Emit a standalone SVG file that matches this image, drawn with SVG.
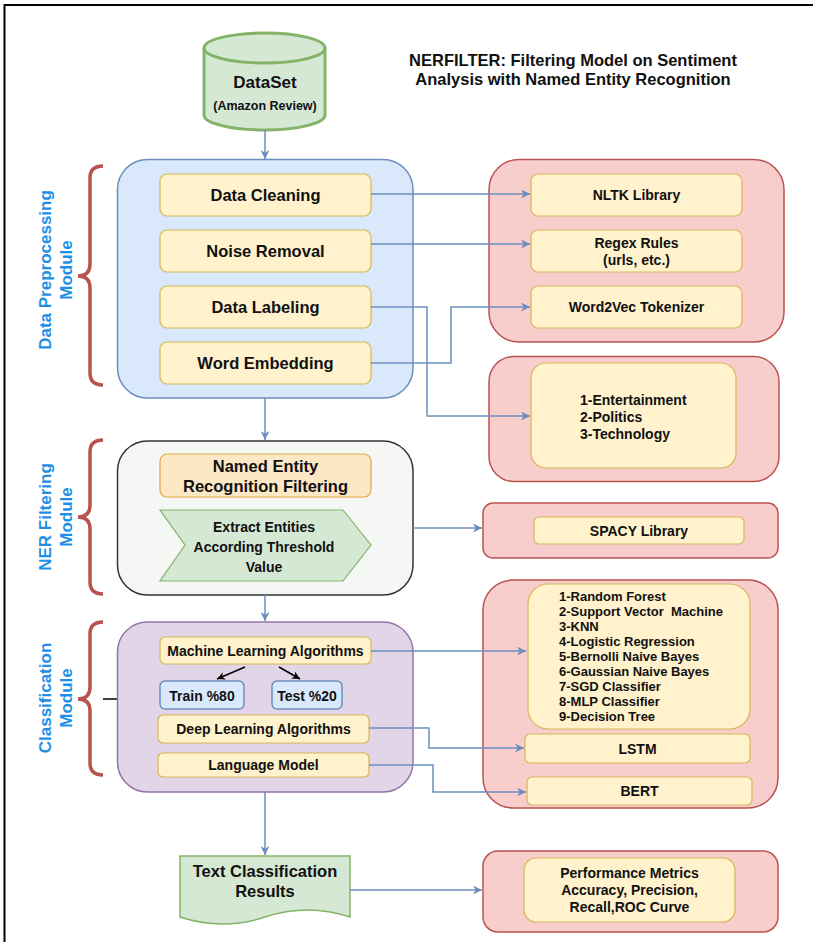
<svg xmlns="http://www.w3.org/2000/svg" width="813" height="942" viewBox="0 0 813 942">
<style>
text{font-family:"Liberation Sans",Arial,sans-serif;font-weight:bold;fill:#111;text-anchor:middle}
.mod{fill:#1f8fe5;font-size:17px}
.blue{fill:#dae8fc;stroke:#6c8ebf;stroke-width:1.5}
.yel{fill:#fff2cc;stroke:#d6b656;stroke-width:1.2}
.red{fill:#f8cecc;stroke:#b85450;stroke-width:1.5}
.brace{fill:none;stroke:#b85450;stroke-width:3.5}
.conn{fill:none;stroke:#6c8ebf;stroke-width:1.5;marker-end:url(#ah)}
.blk{fill:none;stroke:#000;stroke-width:1.5;marker-end:url(#ahk)}
.t16{font-size:16.5px}
.t14{font-size:14px}
.t13{font-size:13px;text-anchor:start}
</style>
<defs>
<marker id="ah" viewBox="0 0 10 10" refX="10" refY="5" markerWidth="11" markerHeight="9" markerUnits="userSpaceOnUse" orient="auto"><path d="M0,0 L10,5 L0,10 L3,5 Z" fill="#6c8ebf"/></marker>
<marker id="ahk" viewBox="0 0 10 10" refX="10" refY="5" markerWidth="10" markerHeight="8" markerUnits="userSpaceOnUse" orient="auto"><path d="M0,0 L10,5 L0,10 L3,5 Z" fill="#000"/></marker>
</defs>
<rect width="813" height="942" fill="#fff"/>
<path d="M4.5,942 V5 H813" fill="none" stroke="#000" stroke-width="2"/>

<g id="title">
<text x="573" y="66" font-size="16.5">NERFILTER: Filtering Model on Sentiment</text>
<text x="573" y="85" font-size="16.5">Analysis with Named Entity Recognition</text>
</g>

<g id="dataset">
<path d="M204,48 V115 A60.5,15 0 0 0 325,115 V48 A60.5,15 0 0 0 204,48 Z" fill="#d5e8d4" stroke="#82b366" stroke-width="3"/>
<path d="M204,48 A60.5,15 0 0 0 325,48" fill="none" stroke="#82b366" stroke-width="3"/>
<text x="265" y="88" font-size="17px">DataSet</text>
<text x="265" y="110" font-size="12.5px">(Amazon Review)</text>
</g>

<g id="labels">
<text class="mod" transform="translate(51,270) rotate(-90)">Data Preprocessing</text>
<text class="mod" transform="translate(72,270) rotate(-90)">Module</text>
<text class="mod" transform="translate(51,517) rotate(-90)">NER Filtering</text>
<text class="mod" transform="translate(72,517) rotate(-90)">Module</text>
<text class="mod" transform="translate(51,698) rotate(-90)">Classification</text>
<text class="mod" transform="translate(72,698) rotate(-90)">Module</text>
<path class="brace" d="M103,166 Q90,166 90,178 V264 Q90,276 78,276 Q90,276 90,288 V373 Q90,385 103,385"/>
<path class="brace" d="M103,440 Q90,440 90,452 V505 Q90,517 78,517 Q90,517 90,529 V582 Q90,594 103,594"/>
<path class="brace" d="M103,622 Q90,622 90,634 V687 Q90,699 78,699 Q90,699 90,711 V763 Q90,775 103,775"/>
<path d="M103,699 H117" stroke="#000" stroke-width="1.5"/>
</g>

<g id="preprocessing">
<rect x="117.5" y="159.5" width="295.5" height="238.5" rx="30" class="blue"/>
<g id="data-cleaning"><rect x="160" y="174" width="211" height="42" rx="7" class="yel"/><text x="265.5" y="201" class="t16">Data Cleaning</text></g>
<g id="noise-removal"><rect x="160" y="230" width="211" height="42" rx="7" class="yel"/><text x="265.5" y="257" class="t16">Noise Removal</text></g>
<g id="data-labeling"><rect x="160" y="286" width="211" height="42" rx="7" class="yel"/><text x="265.5" y="313" class="t16">Data Labeling</text></g>
<g id="word-embedding"><rect x="160" y="342" width="211" height="42" rx="7" class="yel"/><text x="265.5" y="369" class="t16">Word Embedding</text></g>
</g>

<g id="tools1">
<rect x="489" y="159.5" width="295" height="182.5" rx="30" class="red"/>
<g id="nltk"><rect x="531" y="174" width="211" height="42" rx="7" class="yel"/><text x="636.5" y="200" class="t14">NLTK Library</text></g>
<g id="regex"><rect x="531" y="230" width="211" height="42" rx="7" class="yel"/><text x="636.5" y="248" class="t14">Regex Rules</text><text x="636.5" y="265" class="t14">(urls, etc.)</text></g>
<g id="word2vec"><rect x="531" y="286" width="211" height="42" rx="7" class="yel"/><text x="636.5" y="312" class="t14">Word2Vec Tokenizer</text></g>
</g>

<g id="categories">
<rect x="489" y="356.5" width="290" height="125" rx="25" class="red"/>
<rect x="531" y="363" width="205" height="105" rx="15" class="yel"/>
<text x="580" y="405" class="t14" style="text-anchor:start">1-Entertainment</text>
<text x="580" y="422" class="t14" style="text-anchor:start">2-Politics</text>
<text x="580" y="439" class="t14" style="text-anchor:start">3-Technology</text>
</g>

<g id="ner">
<rect x="117.5" y="441" width="295.5" height="154" rx="30" fill="#f5f7f5" stroke="#333" stroke-width="1.5"/>
<g id="ner-filter"><rect x="160" y="454" width="211" height="43" rx="7" fill="#fde8c6" stroke="#e0a545" stroke-width="1.2"/>
<text x="265.5" y="472" font-size="16.5px">Named Entity</text><text x="265.5" y="492" font-size="16.5px">Recognition Filtering</text></g>
<g id="extract"><path d="M160,510 H343 L371,545 L343,581 H160 L185,545 Z" fill="#d5e8d4" stroke="#82b366" stroke-width="1.2"/>
<text x="264" y="532" class="t14">Extract Entities</text><text x="264" y="552" class="t14">According Threshold</text><text x="264" y="572" class="t14">Value</text></g>
</g>

<g id="spacy">
<rect x="483" y="503" width="295" height="55" rx="10" class="red"/>
<rect x="534" y="517" width="210" height="27" rx="5" class="yel"/>
<text x="639" y="535.5" class="t14">SPACY Library</text>
</g>

<g id="classification">
<rect x="117.5" y="622" width="295.5" height="170" rx="30" fill="#e1d5e7" stroke="#9673a6" stroke-width="1.5"/>
<g id="ml"><rect x="160" y="637" width="211" height="27" rx="5" class="yel"/><text x="265.5" y="656" class="t14">Machine Learning Algorithms</text></g>
<g id="train"><rect x="160" y="681" width="84" height="28" rx="5" class="blue"/><text x="202" y="700.5" class="t14">Train %80</text></g>
<g id="test"><rect x="272" y="681" width="70" height="28" rx="5" class="blue"/><text x="307" y="700.5" class="t14">Test %20</text></g>
<g id="dl"><rect x="158" y="715" width="211" height="28" rx="5" class="yel"/><text x="263.5" y="734" class="t14">Deep Learning Algorithms</text></g>
<g id="lm"><rect x="158" y="753" width="211" height="24" rx="5" class="yel"/><text x="263.5" y="770" class="t14">Language Model</text></g>
</g>

<g id="models">
<rect x="483" y="580" width="295" height="228" rx="30" class="red"/>
<g id="ml-list"><rect x="528" y="584" width="222" height="145" rx="20" class="yel"/>
<text x="559" y="600.5" class="t13">1-Random Forest</text>
<text x="559" y="615.5" class="t13">2-Support Vector&#160; Machine</text>
<text x="559" y="630.5" class="t13">3-KNN</text>
<text x="559" y="645.5" class="t13">4-Logistic Regression</text>
<text x="559" y="660.5" class="t13">5-Bernolli Naive Bayes</text>
<text x="559" y="675.5" class="t13">6-Gaussian Naive Bayes</text>
<text x="559" y="690.5" class="t13">7-SGD Classifier</text>
<text x="559" y="705.5" class="t13">8-MLP Classifier</text>
<text x="559" y="720.5" class="t13">9-Decision Tree</text></g>
<g id="lstm"><rect x="525" y="734" width="225" height="29" rx="5" class="yel"/><text x="637.5" y="753.5" class="t14">LSTM</text></g>
<g id="bert"><rect x="527" y="777" width="225" height="28" rx="5" class="yel"/><text x="639.5" y="796" class="t14">BERT</text></g>
</g>

<g id="results">
<path d="M180,856 H350 V917 Q307.5,903 265,917 Q222.5,931 180,917 Z" fill="#d5e8d4" stroke="#82b366" stroke-width="1.5"/>
<text x="265" y="877" font-size="16.5px">Text Classification</text>
<text x="265" y="897" font-size="16.5px">Results</text>
</g>

<g id="metrics">
<rect x="483" y="851" width="295" height="81" rx="15" class="red"/>
<rect x="524" y="858" width="211" height="64" rx="12" class="yel"/>
<text x="629.5" y="878" class="t14">Performance Metrics</text>
<text x="629.5" y="895" class="t14">Accuracy, Precision,</text>
<text x="629.5" y="912" class="t14">Recall,ROC Curve</text>
</g>

<g id="connectors">
<path class="conn" d="M265,130 V159"/>
<path class="conn" d="M265,398 V440"/>
<path class="conn" d="M265,595 V621"/>
<path class="conn" d="M265,792 V855"/>
<path class="conn" d="M371,194 H530"/>
<path class="conn" d="M371,244 H530"/>
<path class="conn" d="M371,307 H427 V416 H530"/>
<path class="conn" d="M371,363 H451 V307 H530"/>
<path class="conn" d="M413,528 H482"/>
<path class="conn" d="M371,651 H526"/>
<path class="conn" d="M369,728 H429 V748 H524"/>
<path class="conn" d="M369,765 H433 V792 H526"/>
<path class="conn" d="M350,890 H482"/>
<path class="blk" d="M245,667 L217,679"/>
<path class="blk" d="M279,667 L300,679"/>
</g>
</svg>
